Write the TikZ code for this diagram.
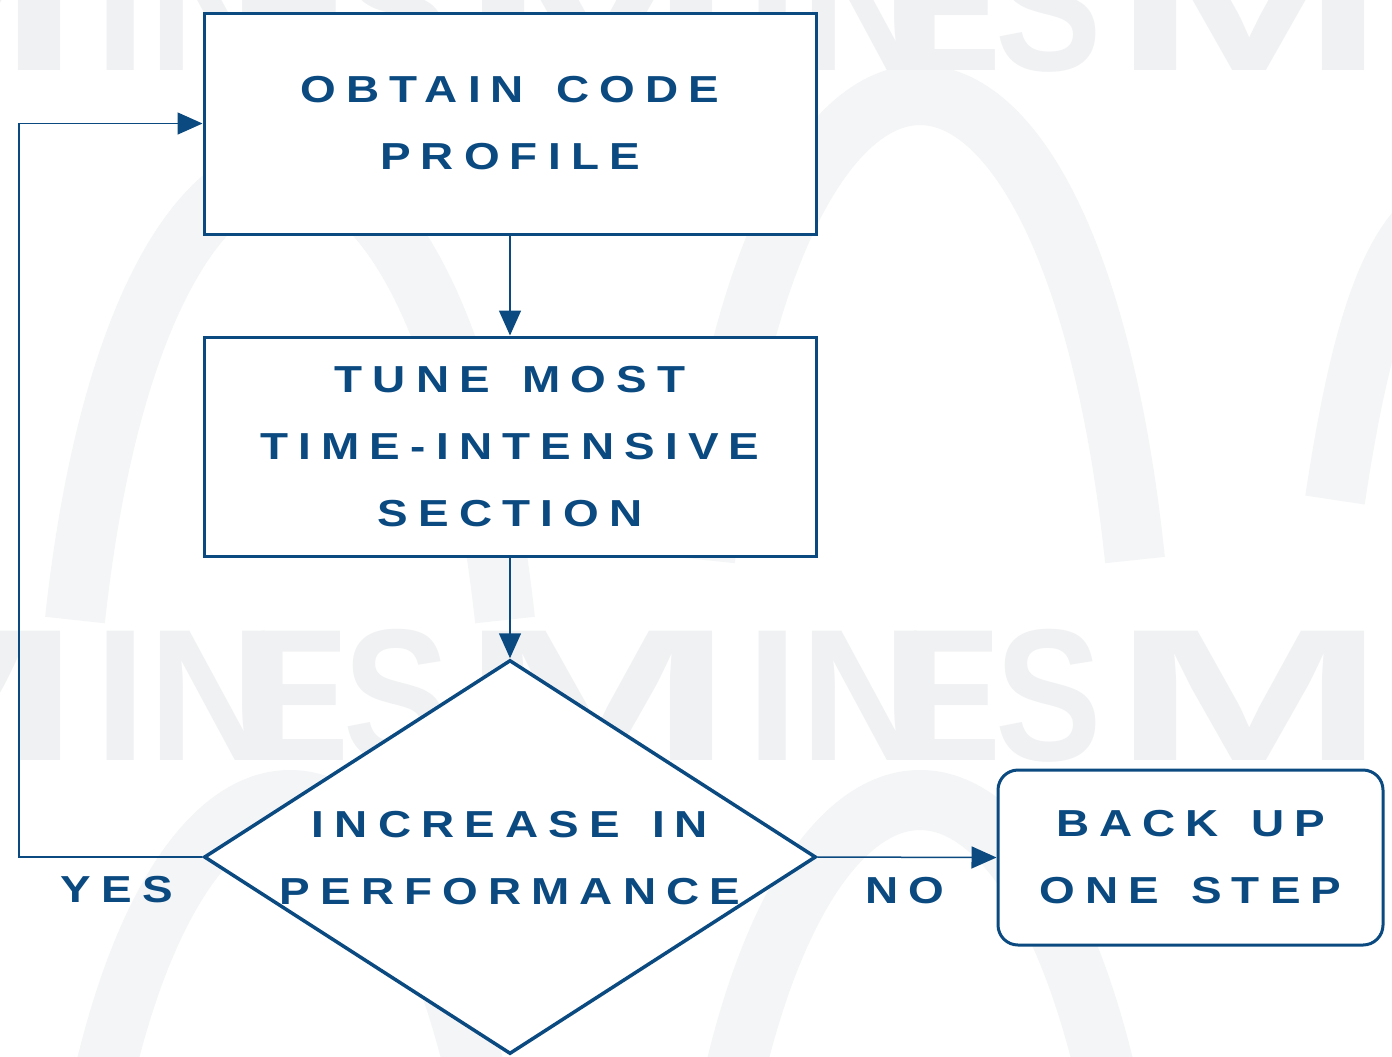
\documentclass[tikz,border=0pt]{standalone}
\usepackage{graphicx}
\usepackage{fontspec}
\setmainfont{Liberation Sans}
\newfontfamily\flowfont[FakeStretch=1.22,LetterSpace=27,WordSpace=1.4,
  UprightFont=*-Bold]{Liberation Sans}
\newfontfamily\markfont{Liberation Sans}
\usetikzlibrary{shapes.geometric,arrows.meta}
\definecolor{flowblue}{HTML}{0B4A80}
\definecolor{markgray}{HTML}{F0F1F3}
\definecolor{archgray}{HTML}{F4F5F6}
\tikzset{
  flowtext/.style={text=flowblue, align=center,
    font=\flowfont\fontsize{18.8}{33.5}\selectfont},
  stepbox/.style={draw=flowblue, line width=1.5pt, fill=white, inner sep=0pt,
    flowtext, minimum width=306pt},
  endbox/.style={stepbox, rounded corners=10pt, minimum width=192.5pt,
    minimum height=87.5pt},
  decision/.style={draw=flowblue, line width=1.75pt, fill=white, shape=diamond,
    inner sep=0pt, minimum width=306pt, minimum height=197pt},
  conn/.style={draw=flowblue, line width=0.75pt,
    -{Triangle[length=12.5pt,width=11pt]}},
  answer/.style={flowtext},
  markletter/.style={text=markgray, inner sep=0pt, anchor=base west,
    font=\markfont\bfseries\fontsize{94}{94}\selectfont},
  arch/.style={draw=archgray, line width=30pt},
}
\begin{document}
\begin{tikzpicture}[x=0.5pt, y=-0.5pt]
  \useasboundingbox (0,0) rectangle (1392,1056);
  \fill[white] (0,0) rectangle (1392,1056);

  % faint background lettering and arches
  \begin{scope}
    \clip (0,0) rectangle (1392,1056);
    \draw[arch] (75,620) .. controls (140,20) and (440,20) .. (505,620);
    \draw[arch] (705,560) .. controls (770,-60) and (1070,-60) .. (1135,560);
    \draw[arch] (1335,500) .. controls (1365,300) and (1400,220) .. (1460,200);
    \draw[arch] (75,1250) .. controls (140,650) and (440,650) .. (505,1250);
    \draw[arch] (705,1250) .. controls (770,650) and (1070,650) .. (1135,1250);
    \foreach \row in {70,760} {
      \foreach \k in {0,1,2} {
        \pgfmathsetmacro\off{652*\k}
        \node[markletter] (mark-M-\row-\k) at (-192+\off,\row)
          {\scalebox{1.75}[1]{M}};
        \node[markletter] (mark-I-\row-\k) at (94+\off,\row) {I};
        \node[markletter] (mark-N-\row-\k) at (148+\off,\row)
          {\scalebox{0.95}[1]{N}};
        \node[markletter] (mark-E-\row-\k) at (252+\off,\row)
          {\scalebox{0.77}[1]{E}};
        \node[markletter] (mark-S-\row-\k) at (343+\off,\row)
          {\scalebox{0.85}[1]{S}};
      }
    }
  \end{scope}

  % flowchart
  \node[stepbox, minimum height=110.5pt] (profile) at (510,123.5)
    {OBTAIN CODE\\PROFILE};
  \node[stepbox, minimum height=109.5pt] (tune) at (510,446.5)
    {TUNE MOST\\TIME-INTENSIVE\\SECTION};
  \node[decision] (perf) at (510,857) {};
  \node[flowtext] (perftext) at (510,858) {INCREASE IN\\PERFORMANCE};
  \node[endbox] (back) at (1190.5,857.5) {BACK UP\\ONE STEP};

  \coordinate (loop) at (19,857);

  \draw[conn] (profile) -- (tune);
  \draw[conn] (tune) -- (perf);
  \draw[conn] (perf.west) -- (loop) |- (profile.west);
  \draw[conn] (perf.east) -- (back.west);

  \node[answer] (yes) at (117,890) {YES};
  \node[answer] (no) at (905,891) {NO};
\end{tikzpicture}
\end{document}
